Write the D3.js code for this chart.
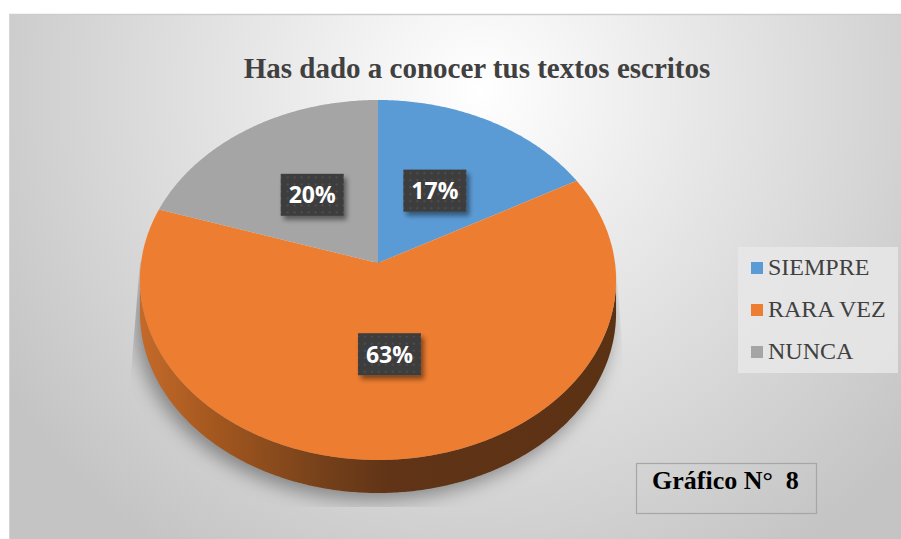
<!DOCTYPE html>
<html>
<head>
<meta charset="utf-8">
<script src="https://cdn.jsdelivr.net/npm/d3@7"></script>
<style>
  body { margin: 0; background: #fff; }
  svg { display: block; }
</style>
</head>
<body>
<div id="chart"></div>
<script>
var categories = ['SIEMPRE', 'RARA VEZ', 'NUNCA'];
var values = [17, 63, 20];
var labels = ['17%', '63%', '20%'];
var colors = ['#5b9bd5', '#ed7d31', '#a5a5a5'];
var titleText = 'Has dado a conocer tus textos escritos';
var noteText = 'Gráfico N°  8';

(function(){
    var W = 901, H = 539;
    var svg = d3.select('#chart').append('svg')
	.attr('width', W)
	.attr('height', H);
    var defs = svg.append('defs');

    // background
    var bg = defs.append('radialGradient').attr('id', 'bg')
	.attr('gradientUnits', 'userSpaceOnUse')
	.attr('cx', 480).attr('cy', 90).attr('r', 560);
    bg.append('stop').attr('offset', 0).attr('stop-color', '#ffffff');
    bg.append('stop').attr('offset', 0.45).attr('stop-color', '#e4e4e4');
    bg.append('stop').attr('offset', 1).attr('stop-color', '#c4c4c4');

    svg.append('rect').attr('x', 9).attr('y', 14).attr('width', W - 9).attr('height', H - 14)
	.attr('fill', 'url(#bg)');
    svg.append('line').attr('x1', 9).attr('x2', W).attr('y1', 14.5).attr('y2', 14.5)
	.attr('stroke', '#cdcdcd').attr('stroke-width', 1.5);
    svg.append('line').attr('x1', 9.5).attr('x2', 9.5).attr('y1', 14).attr('y2', H)
	.attr('stroke', '#d6d6d6');

    // perspective pie geometry
    var cx = 378, cy = 263, A = 237, B = 178.4, p = 0.0944, depth = 33;
    function project(a, r){
	var X = r * Math.sin(a), Y = r * Math.cos(a), w = 1 + p * Y;
	return [cx + A * X / w, cy - B * Y / w];
    }
    function arcPts(a0, a1, r, dy){
	var n = Math.max(4, Math.ceil((a1 - a0) / 0.01)), pts = [];
	for(var i = 0; i <= n; i++){
	    var q = project(a0 + (a1 - a0) * i / n, r);
	    pts.push([q[0], q[1] + (dy || 0)]);
	}
	return pts;
    }
    var line = d3.line().curve(d3.curveLinear);

    var pie = d3.pie().sort(null).value(function(d){return d;});
    var arcs = pie(values);

    // shadow
    var blur = defs.append('filter').attr('id', 'blur')
	.attr('x', '-30%').attr('y', '-30%').attr('width', '160%').attr('height', '160%');
    blur.append('feGaussianBlur').attr('stdDeviation', 9);
    defs.append('clipPath').attr('id', 'shclip').append('path')
	.attr('d', 'M140,262L616,262L634,507L120,507Z');
    svg.append('g').attr('clip-path', 'url(#shclip)')
	.append('path')
	.attr('d', line(arcPts(0, 2 * Math.PI, 1.0, depth + 7).map(function(d){return [d[0] - 5, d[1]];})) + 'Z')
	.attr('fill', '#666').attr('opacity', 0.7)
	.attr('filter', 'url(#blur)');

    // side wall
    var sideGrad = defs.append('linearGradient').attr('id', 'side')
	.attr('gradientUnits', 'userSpaceOnUse')
	.attr('x1', 140).attr('x2', 616).attr('y1', 0).attr('y2', 0);
    [[0, '#c46a2a'], [0.15, '#a5581f'], [0.38, '#76411a'], [0.52, '#613417'], [1, '#5b3114']].forEach(function(s){
	sideGrad.append('stop').attr('offset', s[0]).attr('stop-color', s[1]);
    });
    var s0 = Math.acos(-p), s1 = 2 * Math.PI - Math.acos(-p);
    var topEdge = arcPts(s0, s1, 1, 0);
    var botEdge = arcPts(s0, s1, 1, depth).reverse();
    svg.append('path').attr('d', line(topEdge.concat(botEdge)) + 'Z')
	.attr('fill', 'url(#side)');

    // top faces
    svg.selectAll('path.slice').data(arcs).enter().append('path')
	.attr('class', 'slice')
	.attr('d', function(d){
	    return line([[cx, cy]].concat(arcPts(d.startAngle, d.endAngle, 1, 0))) + 'Z';
	})
	.attr('fill', function(d, i){return colors[i];});

    // data labels
    var pat = defs.append('pattern').attr('id', 'dots')
	.attr('patternUnits', 'userSpaceOnUse').attr('width', 7).attr('height', 7);
    pat.append('rect').attr('width', 7).attr('height', 7).attr('fill', '#3c3c3c');
    pat.append('circle').attr('cx', 3.5).attr('cy', 3.5).attr('r', 1.1).attr('fill', '#545454');
    var ds = defs.append('filter').attr('id', 'ds')
	.attr('x', '-30%').attr('y', '-30%').attr('width', '170%').attr('height', '170%');
    ds.append('feDropShadow').attr('dx', 3).attr('dy', 4).attr('stdDeviation', 2.5)
	.attr('flood-color', '#000').attr('flood-opacity', 0.45);

    var lab = svg.selectAll('g.lab').data(arcs).enter().append('g')
	.attr('class', 'lab')
	.attr('transform', function(d){
	    var q = project((d.startAngle + d.endAngle) / 2, 0.49);
	    return 'translate(' + q[0] + ',' + q[1] + ')';
	});
    lab.append('rect').attr('x', -31.5).attr('y', -21).attr('width', 63).attr('height', 42)
	.attr('fill', 'url(#dots)').attr('filter', 'url(#ds)');
    lab.append('text').attr('text-anchor', 'middle').attr('y', 8.5)
	.attr('font-family', 'Open Sans, Lato, sans-serif').attr('font-weight', 'bold')
	.attr('font-size', 23).attr('fill', '#fff')
	.text(function(d, i){return labels[i];});

    // title
    svg.append('text').attr('x', 477).attr('y', 78).attr('text-anchor', 'middle')
	.attr('font-family', 'Liberation Serif, Times New Roman, serif').attr('font-weight', 'bold')
	.attr('font-size', 29).attr('fill', '#404040')
	.text(titleText);

    // legend
    var legY = d3.scalePoint().domain(categories).range([275, 359]);
    svg.append('rect').attr('x', 738).attr('y', 247).attr('width', 160).attr('height', 126)
	.attr('fill', '#e8e8e8').attr('opacity', 0.85);
    var leg = svg.selectAll('g.leg').data(categories).enter().append('g')
	.attr('class', 'leg')
	.attr('transform', function(d){return 'translate(751,' + legY(d) + ')';});
    leg.append('rect').attr('x', 0).attr('y', -13).attr('width', 12).attr('height', 12)
	.attr('fill', function(d, i){return colors[i];});
    leg.append('text').attr('x', 17).attr('y', 0)
	.attr('font-family', 'Liberation Serif, Times New Roman, serif')
	.attr('font-size', 24).attr('fill', '#404040')
	.text(function(d){return d;});

    // figure note box
    svg.append('rect').attr('x', 636.5).attr('y', 463.5).attr('width', 180).attr('height', 50)
	.attr('fill', 'none').attr('stroke', '#a6a6a6').attr('stroke-width', 1.2);
    svg.append('text').attr('x', 652).attr('y', 489)
	.attr('font-family', 'Liberation Serif, Times New Roman, serif').attr('font-weight', 'bold')
	.attr('font-size', 26).attr('fill', '#000')
	.style('white-space', 'pre')
	.text(noteText);
})();
</script>
</body>
</html>
